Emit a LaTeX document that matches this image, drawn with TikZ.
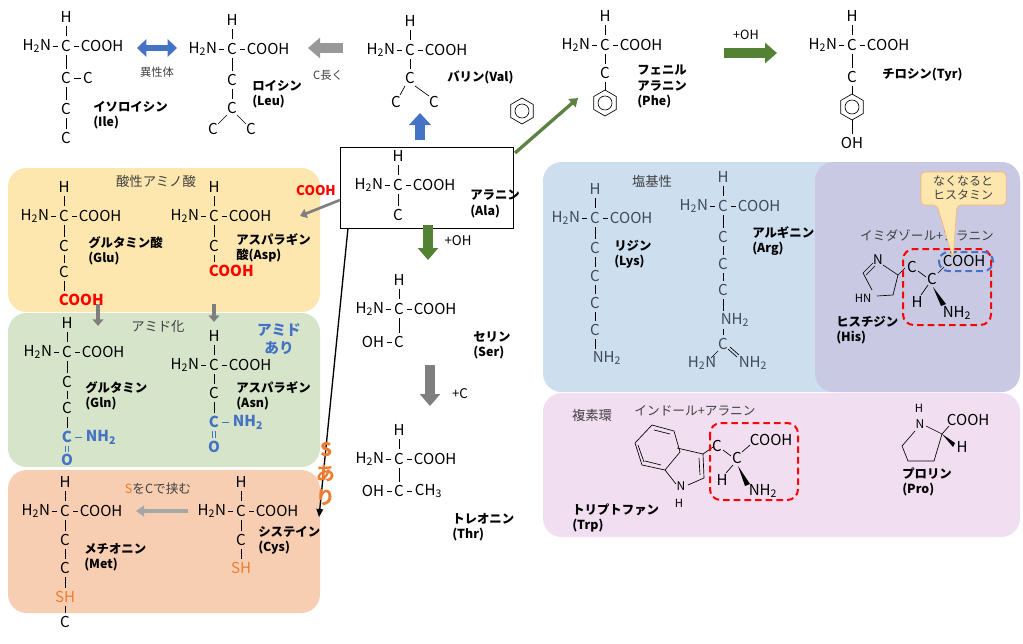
\documentclass[tikz,border=0pt]{standalone}
\usepackage{fontspec}
\setmainfont{Noto Sans CJK JP}
\usetikzlibrary{arrows.meta,shapes.geometric,calc}
\definecolor{cred}{HTML}{FF0000}
\definecolor{cblue}{HTML}{4472C4}
\definecolor{corange}{HTML}{ED7D31}
\definecolor{cgreen}{HTML}{548235}
\definecolor{cgray}{HTML}{7F7F7F}
\definecolor{byel}{HTML}{FDE7AE}
\definecolor{bgreen}{HTML}{D6E4CA}
\definecolor{borg}{HTML}{F8CEB2}
\definecolor{bblue}{HTML}{CDDEEF}
\definecolor{bpur}{HTML}{C9C9E3}
\definecolor{bpink}{HTML}{F1DFF1}
\definecolor{ctxt}{HTML}{404040}
\newcommand\amrow[2]{%
 \node[ch] at (#1,#2) {C};
 \node[ch,anchor=east] at (#1-14,#2) {H\textsubscript{2}N};
 \node[ch,anchor=west] at (#1+14,#2) {COOH};
 \draw[bd] (#1-13,#2)--(#1-8,#2) (#1+8,#2)--(#1+13,#2);
 \node[ch] at (#1,#2-29) {H};
 \draw[bd] (#1,#2-20)--(#1,#2-10);}
\newcommand\bnd[3]{\draw[bd] (#1,#2+9)--(#1,#3-9);}
\newcommand\benz[2]{\draw[bd] (#1,#2) ++(90:13) -- ++(-30:13) -- ++(-90:13) -- ++(-150:13) -- ++(150:13) -- ++(90:13) -- cycle;
 \draw[bd] (#1,#2) circle (7);}
\begin{document}
\begin{tikzpicture}[x=0.75pt,y=-0.75pt,
 ch/.style={font=\fontsize{11.3}{12}\selectfont,inner sep=0.5pt,text=black},
 lb/.style={font=\fontsize{9.3}{11.5}\selectfont\bfseries,align=left,anchor=north west,inner sep=0pt,text=black},
 tt/.style={font=\fontsize{10}{11}\selectfont,text=ctxt,inner sep=0pt},
 bd/.style={line width=0.5pt},
 box/.style={rounded corners=14pt,draw=none},
 blk/.style={line width=7pt,-{Triangle[length=9pt,width=15pt]}},
 thin/.style={line width=2pt,-{Triangle[length=5pt,width=7pt]}}]
\useasboundingbox (0,0) rectangle (1023,643);
% boxes
\fill[byel,box] (8,168) rectangle (320,312);
\fill[bgreen,box] (8,313) rectangle (320,467);
\fill[borg,box] (8,470) rectangle (320,613);
\fill[bblue,box] (543,162) rectangle (1020,392);
\fill[bpur,rounded corners=14pt] (815,162) rectangle (1020,392);
\fill[bpink,box] (543,393) rectangle (1020,537);
\node[tt] at (156,181) {酸性アミノ酸};
\node[tt] at (158,327) {アミド化};
\node[tt] at (652,181) {塩基性};
\node[tt] at (592,415) {複素環};
% Ile
\amrow{66}{46}
\bnd{66}{46}{78}\node[ch] at (66,78) {C};\draw[bd](74,78)--(81,78);\node[ch] at (88,78){C};
\bnd{66}{78}{109}\node[ch] at (66,109) {C};
\bnd{66}{109}{138}\node[ch] at (66,138) {C};
\node[lb] at (93,101) {イソロイシン\\(Ile)};
\draw[cblue,line width=5pt,{Triangle[length=7pt,width=13pt]}-{Triangle[length=7pt,width=13pt]}] (137,48)--(177,48);
\node[tt,font=\fontsize{8.5}{10}\selectfont] at (157,72) {異性体};
% Leu
\amrow{232}{49}
\bnd{232}{49}{80}\node[ch] at (232,80) {C};
\bnd{232}{80}{108}\node[ch] at (232,108) {C};
\draw[bd] (227,115)--(218,124) (237,115)--(246,124);
\node[ch] at (213,129){C};\node[ch] at (251,129){C};
\node[lb] at (252,80) {ロイシン\\(Leu)};
\draw[cgray!80,line width=7pt,-{Triangle[length=9pt,width=15pt]}] (343,48)--(308,48);
\node[tt,font=\fontsize{8.5}{10}\selectfont] at (328,75) {C長く};
% Val
\amrow{410}{50}
\bnd{410}{50}{78}\node[ch] at (410,78) {C};
\draw[bd] (405,86)--(400,95) (415,86)--(429,96);
\node[ch] at (396,102){C};\node[ch] at (434,102){C};
\node[lb] at (447,71) {バリン(Val)};
% Phe
\amrow{605}{45}
\bnd{605}{45}{73}\node[ch] at (605,73) {C};
\draw[bd] (605,82)--(605,90);
\benz{605}{103}
\node[lb] at (637,65) {フェニル\\アラニン\\(Phe)};
% Tyr
\amrow{852}{45}
\bnd{852}{45}{77}\node[ch] at (852,77) {C};
\draw[bd] (852,86)--(852,94);
\benz{852}{107}
\draw[bd] (852,120)--(852,134);
\node[ch] at (852,143) {OH};
\node[lb] at (882,68) {チロシン(Tyr)};
\draw[cgreen,blk] (724,53)--(777,53);
\node[tt,font=\fontsize{9.5}{10}\selectfont,text=black] at (746,35) {+OH};
% benzene alone
\benz{522}{111}
% Ala
\node[draw,line width=0.6pt,minimum width=173*0.75pt,minimum height=81*0.75pt,anchor=north west,inner sep=0] (ala) at (340,147) {};
\amrow{398}{185}
\bnd{398}{185}{215}\node[ch] at (398,215) {C};
\node[lb] at (470,190) {アラニン\\(Ala)};
\draw[cblue,line width=7pt,-{Triangle[length=9pt,width=16pt]}] (420,140)--(420,113);
\draw[cgreen!80!gray,line width=2.5pt,-{Triangle[length=6pt,width=8pt]}] (515,153)--(578,98);
\draw[cgreen,blk] (428,225)--(428,260);
\node[tt,text=black] at (458,241) {+OH};
\draw[cgray,thin] (340,200)--(300,216);
\node[font=\fontsize{10}{11}\selectfont\bfseries,text=cred] at (316,191) {COOH};
\draw[line width=1pt,-{Triangle[length=6pt,width=5pt]}] (348,228)--(319,517);
% Ser
\amrow{399}{309}
\bnd{399}{309}{342}\node[ch] at (399,342) {C};
\node[ch,anchor=east] at (385,342) {OH};\draw[bd](387,342)--(392,342);
\node[lb] at (473,331) {セリン\\(Ser)};
\draw[cgray,blk] (430,365)--(430,406);
\node[tt,text=black] at (460,394) {+C};
% Thr
\amrow{399}{459}
\bnd{399}{459}{491}\node[ch] at (399,491) {C};
\node[ch,anchor=east] at (385,491) {OH};\draw[bd](387,491)--(392,491);
\draw[bd](407,491)--(412,491);\node[ch,anchor=west] at (414,491) {CH\textsubscript{3}};
\node[lb] at (452,513) {トレオニン\\(Thr)};
% Glu
\amrow{64}{216}
\bnd{64}{216}{246}\node[ch] at (64,246) {C};
\bnd{64}{246}{272}\node[ch] at (64,272) {C};
\bnd{64}{272}{300}\node[ch,text=cred,font=\fontsize{11.3}{12}\selectfont\bfseries,anchor=west] at (58,300) {COOH};
\node[lb] at (88,236) {グルタミン酸\\(Glu)};
% Asp
\amrow{214}{216}
\bnd{214}{216}{246}\node[ch] at (214,246) {C};
\bnd{214}{246}{271}\node[ch,text=cred,font=\fontsize{11.3}{12}\selectfont\bfseries,anchor=west] at (208,271) {COOH};
\node[lb] at (236,233) {アスパラギン\\酸(Asp)};
\draw[cgray,line width=3pt,-{Triangle[length=5pt,width=8pt]}] (98,304)--(98,326);
\draw[cgray,line width=3pt,-{Triangle[length=5pt,width=8pt]}] (214,304)--(214,322);
% Gln
\amrow{67}{352}
\bnd{67}{352}{382}\node[ch] at (67,382) {C};
\bnd{67}{382}{408}\node[ch] at (67,408) {C};
\bnd{67}{408}{437}\node[ch,text=cblue,font=\fontsize{11.3}{12}\selectfont\bfseries] at (67,437) {C};
\draw[cblue,bd](75,437)--(82,437);\node[ch,text=cblue,font=\fontsize{11.3}{12}\selectfont\bfseries,anchor=west] at (85,437){NH\textsubscript{2}};
\draw[cblue,bd](65.5,446)--(65.5,452) (68.5,446)--(68.5,452);
\node[ch,text=cblue,font=\fontsize{11.3}{12}\selectfont\bfseries] at (67,460) {O};
\node[lb] at (85,381) {グルタミン\\(Gln)};
% Asn
\amrow{214}{365}
\bnd{214}{365}{393}\node[ch] at (214,393) {C};
\bnd{214}{393}{422}\node[ch,text=cblue,font=\fontsize{11.3}{12}\selectfont\bfseries] at (214,422) {C};
\draw[cblue,bd](222,422)--(229,422);\node[ch,text=cblue,font=\fontsize{11.3}{12}\selectfont\bfseries,anchor=west] at (232,422){NH\textsubscript{2}};
\draw[cblue,bd](212.5,431)--(212.5,438) (215.5,431)--(215.5,438);
\node[ch,text=cblue,font=\fontsize{11.3}{12}\selectfont\bfseries] at (214,447) {O};
\node[lb] at (236,381) {アスパラギン\\(Asn)};
\node[font=\fontsize{11}{13}\selectfont\bfseries,text=cblue,align=center] at (279,339) {アミド\\あり};
% Met
\amrow{65}{511}
\bnd{65}{511}{540}\node[ch] at (65,540) {C};
\bnd{65}{540}{568}\node[ch] at (65,568) {C};
\bnd{65}{568}{597}\node[ch,text=corange] at (65,597) {SH};
\bnd{65}{597}{622}\node[ch] at (65,622) {C};
\node[lb] at (84,543) {メチオニン\\(Met)};
% Cys
\amrow{241}{511}
\bnd{241}{511}{540}\node[ch] at (241,540) {C};
\bnd{241}{540}{568}\node[ch,text=corange] at (241,568) {SH};
\node[lb] at (258,526) {システイン\\(Cys)};
\draw[gray!70,line width=2.5pt,-{Triangle[length=6pt,width=8pt]}] (188,511)--(136,511);
\node[tt,font=\fontsize{9.5}{10}\selectfont] at (158,489) {\textcolor{corange}{S}をCで挟む};
\node[font=\fontsize{14}{18}\selectfont\bfseries,text=corange,align=center] at (326,474) {S\\あ\\り};
% Lys
\begin{scope}[ch/.append style={text=ctxt!80!cblue}]
\amrow{595}{218}
\bnd{595}{218}{248}\node[ch] at (595,248){C};
\bnd{595}{248}{276}\node[ch] at (595,276){C};
\bnd{595}{276}{303}\node[ch] at (595,303){C};
\bnd{595}{303}{330}\node[ch] at (595,330){C};
\bnd{595}{330}{358}\node[ch] at (607,358){NH\textsubscript{2}};
\node[lb] at (614,240) {リジン\\(Lys)};
% Arg
\amrow{723}{206}
\bnd{723}{206}{237}\node[ch] at (723,237){C};
\bnd{723}{237}{264}\node[ch] at (723,264){C};
\bnd{723}{264}{290}\node[ch] at (723,290){C};
\bnd{723}{290}{320}\node[ch] at (735,320){NH\textsubscript{2}};
\bnd{723}{320}{344}\node[ch] at (723,344){C};
\draw[bd] (718,351)--(711,358) (728,349)--(737,357) (730,347)--(739,355);
\node[ch] at (702,363){H\textsubscript{2}N};\node[ch] at (753,363){NH\textsubscript{2}};
\node[lb] at (752,226) {アルギニン\\(Arg)};
\end{scope}
% His
\node[tt,font=\fontsize{9.5}{10}\selectfont] at (927,236) {イミダゾール+アラニン};
\draw[bd] (883,265)--(898,275)--(893,295)--(877,296) (872,290)--(863,273)--(873,263) (866,275)--(875,266);
\node[ch,font=\fontsize{10}{10}\selectfont] at (878,260) {N};
\node[ch,font=\fontsize{8.5}{9}\selectfont] at (863,298) {HN};
\draw[bd] (898,275)--(905,268);
\node[ch] at (912,267){C};\draw[bd](918,271)--(926,277);
\node[ch] at (932,279){C};\draw[bd](938,273)--(944,267);
\node[ch,anchor=west] at (942,261){COOH};
\draw[bd](928,285)--(921,295);\node[ch] at (917,302){H};
\fill (933,287)--(946,304)--(941,306)--cycle;
\node[ch] at (957,313){NH\textsubscript{2}};
\draw[cred,line width=1.5pt,dash pattern=on 5pt off 3pt,rounded corners=8pt] (903,249) rectangle (991,325);
\draw[cblue,line width=1.5pt,dash pattern=on 5pt off 3pt,rounded corners=7pt] (939,252) rectangle (993,271);
\node[lb] at (836,316) {ヒスチジン\\(His)};
\fill[byel,draw=orange!60,line width=0.4pt,rounded corners=3] (921,172)--(1006,172)--(1006,205)--(957,205)--(953,258)--(937,205)--(921,205)--cycle;
\node[tt,font=\fontsize{9}{11}\selectfont,align=center,text=ctxt] at (963,188) {なくなると\\ヒスタミン};
% Trp
\node[tt,font=\fontsize{9.5}{10}\selectfont] at (695,411) {インドール+アラニン};
\draw[bd] (652,425)--(674,431)--(680,452)--(665,470)--(642,465)--(635,443)--cycle;
\draw[bd] (654,430)--(670,434) (661,465)--(645,461) (638,445)--(644,462);
\draw[bd] (677,448)--(703,454)--(704,478)--(688,485) (676,484)--(665,470) (699,458)--(700,475);
\draw[bd] (703,454)--(713,447);
\node[ch,font=\fontsize{9}{9}\selectfont\itshape] at (681,486){N};
\node[ch,font=\fontsize{8.5}{9}\selectfont\itshape] at (679,503){H};
\node[ch] at (717,446){C};\draw[bd](723,450)--(731,456);
\node[ch] at (737,458){C};\draw[bd](742,452)--(750,445);
\node[ch,anchor=west] at (749,440){COOH};
\draw[bd](733,465)--(726,473);\node[ch] at (722,480){H};
\fill (738,466)--(750,484)--(745,486)--cycle;
\node[ch] at (763,491){NH\textsubscript{2}};
\draw[cred,line width=1.5pt,dash pattern=on 5pt off 3pt,rounded corners=8pt] (710,423) rectangle (798,500);
\node[lb] at (572,503) {トリプトファン\\(Trp)};
% Pro
\draw[bd] (915,431)--(902,446)--(908,461)--(934,461)--(942,434) (926,426)--(942,434);
\node[ch,font=\fontsize{9}{9}\selectfont] at (920,424){N};
\node[ch,font=\fontsize{8.5}{9}\selectfont] at (919,408){H};
\draw[bd](942,434)--(949,426);\node[ch,anchor=west] at (946,420){COOH};
\fill (942,434)--(955,443)--(953,447)--cycle;
\node[ch] at (962,447){H};
\node[lb] at (902,467) {プロリン\\(Pro)};
\end{tikzpicture}
\end{document}
